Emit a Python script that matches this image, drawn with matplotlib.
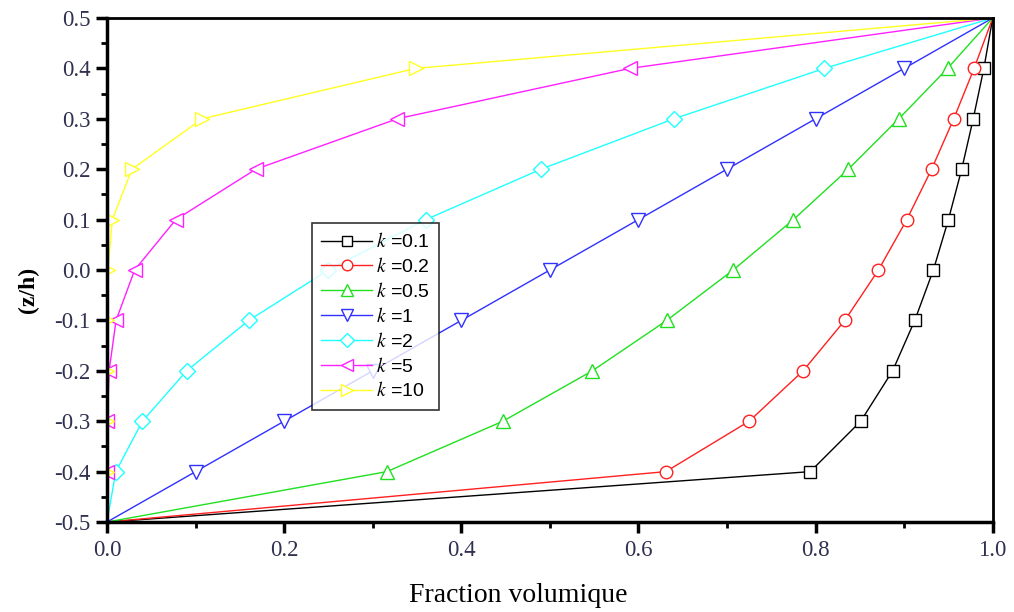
import matplotlib
matplotlib.use("Agg")
import matplotlib.pyplot as plt
from matplotlib.ticker import MultipleLocator, FormatStrFormatter

plt.rcParams["mathtext.fontset"] = "stix"

# z/h positions through the thickness
z_h = [-0.5, -0.4, -0.3, -0.2, -0.1, 0.0, 0.1, 0.2, 0.3, 0.4, 0.5]

# volume fraction, one list per k
v_k01 = [0.0, 0.794, 0.851, 0.887, 0.912, 0.933, 0.950, 0.965, 0.978, 0.990, 1.0]
v_k02 = [0.0, 0.631, 0.725, 0.786, 0.833, 0.871, 0.903, 0.931, 0.956, 0.979, 1.0]
v_k05 = [0.0, 0.316, 0.447, 0.548, 0.632, 0.707, 0.775, 0.837, 0.894, 0.949, 1.0]
v_k1 = [0.0, 0.1, 0.2, 0.3, 0.4, 0.5, 0.6, 0.7, 0.8, 0.9, 1.0]
v_k2 = [0.0, 0.01, 0.04, 0.09, 0.16, 0.25, 0.36, 0.49, 0.64, 0.81, 1.0]
v_k5 = [0.0, 0.00001, 0.00032, 0.00243, 0.01024, 0.03125, 0.07776, 0.16807, 0.32768, 0.59049, 1.0]
v_k10 = [0.0, 0.0, 0.0, 0.000006, 0.000105, 0.000977, 0.00605, 0.0282, 0.1074, 0.3487, 1.0]

k_labels = ["0.1", "0.2", "0.5", "1", "2", "5", "10"]
series = [v_k01, v_k02, v_k05, v_k1, v_k2, v_k5, v_k10]
colors = ["black", "#ff2020", "#20e020", "#3030ff", "#20ffff", "#ff20ff", "#ffff20"]
markers = ["s", "o", "^", "v", "D", "<", ">"]
msizes = [8, 9, 10, 10, 8, 10, 10]

fig = plt.figure(figsize=(10.14, 6.12), dpi=100)
ax = fig.add_axes([0.1055, 0.147, 0.8735, 0.8236])

for v, lab, c, m, ms in zip(series, k_labels, colors, markers, msizes):
    ax.plot(v, z_h, color=c, lw=1.0, marker=m, markersize=ms,
            markerfacecolor="white", markeredgecolor=c, markeredgewidth=1.0,
            markevery=slice(1, 10),
            label=r"$k$ =" + lab)

ax.set_xlim(0, 1)
ax.set_ylim(-0.5, 0.5)
ax.xaxis.set_major_locator(MultipleLocator(0.2))
ax.xaxis.set_minor_locator(MultipleLocator(0.1))
ax.yaxis.set_major_locator(MultipleLocator(0.1))
ax.yaxis.set_minor_locator(MultipleLocator(0.05))
ax.xaxis.set_major_formatter(FormatStrFormatter("%.1f"))
ax.yaxis.set_major_formatter(FormatStrFormatter("%.1f"))

for s in ["left", "bottom"]:
    ax.spines[s].set_linewidth(2.5)
for s in ["top", "right"]:
    ax.spines[s].set_linewidth(2.0)

ax.tick_params(which="major", direction="out", length=8, width=2.5,
               top=False, right=False, labelsize=16.5)
ax.tick_params(axis="x", which="major", pad=5)
ax.tick_params(axis="y", which="major", pad=4)
ax.tick_params(which="minor", direction="out", length=4, width=2,
               top=False, right=False)
for t in ax.get_xticklabels() + ax.get_yticklabels():
    t.set_fontfamily("Liberation Serif")
    t.set_color("#303050")

ax.set_xlabel("Fraction volumique", fontfamily="Liberation Serif",
              fontsize=20, labelpad=8)
ax.xaxis.set_label_coords(0.464, -0.12)
ax.set_ylabel("(z/h)", fontfamily="Liberation Serif", fontsize=17,
              fontweight="bold")
ax.yaxis.set_label_coords(-0.077, 0.46)

leg = ax.legend(loc="lower left", bbox_to_anchor=(0.231, 0.222),
                prop={"family": "Liberation Sans", "size": 14},
                frameon=True, fancybox=False, edgecolor="black",
                handlelength=2.6, handletextpad=0.2, labelspacing=0.3,
                borderpad=0.5, borderaxespad=0, markerscale=0.85)
leg.get_frame().set_linewidth(1.2)

fig.savefig("out.png", dpi=100)
